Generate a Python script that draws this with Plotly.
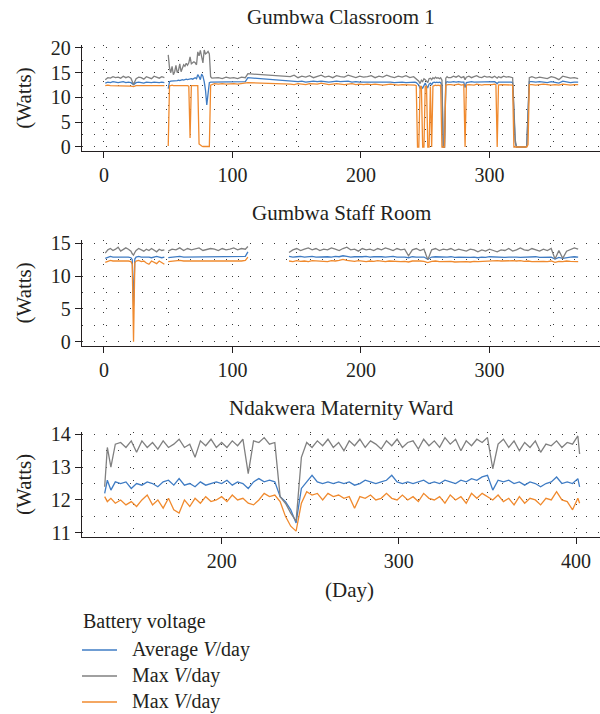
import plotly.graph_objects as go

# ---------------- data ----------------
# Panel 1: Gumbwa Classroom 1
p1_day = (list(range(1, 48, 2)) + [48.5] + list(range(50, 85))
          + [86, 89, 92, 95, 98, 101, 104, 107, 110, 112]
          + list(range(145, 242, 3)) + list(range(242, 269))
          + [270, 272, 274, 276, 278, 280, 281, 282, 284, 286, 288, 290, 292, 294,
             296, 298, 300, 302, 304, 305, 306, 307, 309, 311, 313, 315]
          + list(range(317, 332)) + list(range(333, 370, 3)))
p1_max = ([13.6, 14.0, 13.9, 14.2, 14.0, 14.1, 13.9, 14.3, 14.0, 14.2, 13.9, 12.6,
           13.8, 14.1, 14.0, 13.7, 14.2, 14.0, 13.8, 14.3, 14.1, 13.9, 14.2, 14.0]
          + [None]
          + [18.6, 16.0, 15.0, 16.3, 14.6, 15.2, 16.5, 15.0, 15.5, 16.8, 15.2, 16.0,
             16.6, 16.3, 16.9, 16.5, 17.0, 18.2, 16.8, 17.0, 17.2, 17.0, 16.6, 19.2,
             18.4, 19.5, 18.0, 17.0, 19.6, 18.8, 19.0, 19.3, 18.8, 14.2, 13.9]
          + [13.9, 14.0, 13.8, 14.1, 13.9, 14.0, 13.8, 14.1, 14.0, 14.8]
          + [14.2, 14.5, 14.0, 14.3, 14.1, 14.4, 14.0, 14.2, 14.5, 14.1, 14.3, 14.0,
             14.4, 14.2, 14.1, 14.5, 14.2, 14.0, 14.3, 14.1, 14.2, 14.4, 14.0, 14.3,
             14.1, 14.5, 14.2, 14.0, 14.3, 14.1, 14.4, 14.0, 14.2]
          + [14.0, 13.8, 13.6, 13.3, 12.8, 13.5, 13.2, 13.8, 13.6, 13.2, 13.0, 13.8,
             13.9, 13.6, 14.0, 13.8, 14.1, 13.9, 14.0, 13.8, 14.0, 13.5, 0.0, 0.0,
             13.9, 14.2, 14.0]
          + [14.0, 14.3, 14.1, 14.4, 14.0, 14.2, 13.6, 14.1, 14.3, 14.0, 14.2, 14.4,
             14.1, 14.0, 14.3, 14.1, 14.2, 14.0, 14.3, 14.1, 13.9, 14.2, 14.0, 14.3,
             14.1, 14.2]
          + [14.1, 14.0, 8.0, 1.5, 0, 0, 0, 0, 0, 0, 0, 0, 0.2, 7.5, 14.0]
          + [14.2, 13.9, 14.1, 14.0, 13.8, 14.2, 14.0, 13.6, 14.3, 14.1, 13.9, 14.0, 13.8])
p1_avg = ([12.9, 13.1, 13.0, 13.2, 13.1, 13.0, 13.1, 13.2, 13.0, 13.1, 13.0, 12.6,
           13.0, 13.1, 13.0, 12.9, 13.1, 13.0, 13.0, 13.1, 13.0, 13.0, 13.1, 13.0]
          + [None]
          + [11.8, 13.2, 13.3, 13.3, 13.4, 13.3, 13.4, 13.4, 13.5, 13.4, 13.5, 13.6,
             13.5, 13.6, 13.7, 13.6, 13.7, 13.8, 13.8, 13.7, 13.9, 14.0, 13.8, 14.6,
             14.2, 13.6, 14.7, 14.3, 13.2, 11.5, 8.5, 11.0, 13.0, 13.1, 13.1]
          + [13.2, 13.1, 13.2, 13.1, 13.2, 13.1, 13.2, 13.1, 13.2, 14.0]
          + [13.3, 13.2, 13.2, 13.3, 13.1, 13.2, 13.3, 13.2, 13.3, 13.2, 13.1, 13.2,
             13.3, 13.2, 13.2, 13.3, 13.1, 13.2, 13.1, 13.1, 13.2, 13.1, 13.2, 13.1,
             13.1, 13.2, 13.1, 13.0, 13.1, 13.1, 13.0, 13.1, 13.1]
          + [13.1, 13.0, 12.8, 12.5, 11.8, 12.2, 11.9, 12.6, 12.9, 12.3, 12.0, 12.7,
             12.9, 12.6, 13.0, 13.1, 13.0, 13.1, 13.0, 13.1, 13.0, 12.5, 0.0, 0.0,
             13.0, 13.2, 13.1]
          + [13.1, 13.2, 13.1, 13.2, 13.1, 13.1, 12.0, 13.0, 13.1, 13.2, 13.1, 13.1,
             13.2, 13.1, 13.1, 13.2, 13.1, 13.1, 13.2, 13.0, 12.8, 13.1, 13.1, 13.2,
             13.1, 13.1]
          + [13.1, 13.0, 7.0, 1.0, 0, 0, 0, 0, 0, 0, 0, 0, 0.2, 7.0, 13.2]
          + [13.2, 13.1, 13.2, 13.1, 13.0, 13.2, 13.1, 12.9, 13.3, 13.1, 13.0, 13.1, 13.1])
p1_min = ([12.4, 12.5, 12.4, 12.4, 12.4, 12.3, 12.4, 12.4, 12.4, 12.4, 12.3, 12.2,
           12.4, 12.4, 12.4, 12.4, 12.3, 12.4, 12.4, 12.4, 12.4, 12.4, 12.3, 12.4]
          + [None]
          + [0.2, 12.4, 12.4, 12.5, 12.4, 12.4, 12.4, 12.5, 12.4, 12.4, 12.4, 12.5,
             12.4, 12.4, 12.4, 12.4, 12.3, 1.8, 12.4, 12.4, 12.5, 12.4, 12.4, 12.4,
             0.6, 0.3, 0.2, 0.1, 0.1, 0.1, 0.1, 0.1, 0.1, 12.5, 12.6]
          + [12.8, 12.7, 12.8, 12.7, 12.8, 12.8, 12.7, 12.8, 12.8, 13.0]
          + [12.7, 12.6, 12.8, 12.7, 12.6, 12.8, 12.7, 12.7, 12.9, 12.7, 12.6, 12.7,
             12.8, 12.7, 12.6, 12.7, 12.8, 12.6, 12.7, 12.6, 12.7, 12.6, 12.7, 12.6,
             12.5, 12.6, 12.7, 12.6, 12.5, 12.6, 12.6, 12.5, 12.6]
          + [12.5, 12.4, 0, 0, 12.3, 12.2, 0, 0, 12.2, 12.3, 0, 0, 12.2, 0, 12.3,
             12.4, 12.5, 12.4, 12.5, 12.4, 12.5, 0, 0, 0, 12.5, 12.6, 12.6]
          + [12.6, 12.5, 12.6, 12.7, 12.5, 12.6, 0, 12.5, 12.6, 12.6, 12.5, 12.7,
             12.6, 12.5, 12.6, 12.6, 12.5, 12.6, 12.7, 12.6, 0, 12.5, 12.6, 12.6,
             12.5, 12.6]
          + [12.6, 12.5, 0, 0, 0, 0, 0, 0, 0, 0, 0, 0, 0, 0.5, 12.6]
          + [12.6, 12.5, 12.6, 12.7, 12.6, 12.5, 12.6, 12.5, 12.7, 12.6, 12.5, 12.6, 12.6])

# Panel 2: Gumbwa Staff Room
p2_day = (list(range(1, 22, 2)) + [22, 23, 24] + list(range(25, 48, 2)) + [48.5]
          + list(range(50, 111, 3)) + [112] + [128] + list(range(144, 370, 3)))
p2_max = ([13.5, 14.0, 14.2, 13.9, 14.1, 14.4, 13.8, 14.0, 14.3, 14.1, 13.8, 13.4,
           13.2, 13.6, 13.9, 14.2, 14.0, 13.8, 14.1, 13.9, 14.2, 14.0, 13.7, 14.1,
           13.9, 14.0]
          + [None]
          + [13.8, 14.1, 14.0, 14.3, 13.9, 14.2, 14.0, 14.1, 14.3, 13.9, 14.0, 14.2,
             14.1, 13.9, 14.2, 14.0, 14.1, 14.3, 14.0, 14.2, 14.1, 14.5]
          + [None]
          + [13.6, 14.0, 14.2, 13.9, 14.1, 14.3, 14.0, 14.2, 13.9, 14.1,
             14.0, 14.3, 14.1, 13.9, 14.2, 14.4, 14.0, 14.1, 13.8, 14.2,
             14.0, 14.1, 13.9, 14.2, 14.0, 14.3, 14.1, 13.9, 14.2, 14.0,
             14.1, 13.1, 14.0, 14.2, 13.9, 14.1, 12.5, 14.0, 14.2, 13.9,
             14.1, 14.0, 14.2, 13.9, 14.1, 14.0, 13.8, 14.1, 14.0, 13.7,
             14.0, 13.8, 14.1, 13.9, 13.7, 14.0, 13.9, 14.2, 13.8, 14.0,
             14.3, 14.0, 13.9, 14.2, 14.0, 13.8, 14.1, 13.9, 14.2, 12.6,
             13.9, 12.7, 13.8, 14.0, 14.3, 14.1])
p2_avg = ([12.7, 12.9, 13.0, 12.9, 12.9, 13.0, 12.9, 12.9, 13.0, 12.9, 12.8, 12.5,
           5.5, 12.6, 12.9, 13.0, 12.9, 12.9, 13.0, 12.9, 12.8, 12.9, 13.0, 12.9,
           12.8, 12.9]
          + [None]
          + [12.8, 12.9, 12.9, 13.0, 12.9, 12.9, 12.9, 13.0, 12.9, 12.9, 12.9, 13.0,
             12.9, 12.9, 12.9, 13.0, 12.9, 12.9, 12.9, 12.9, 13.0, 13.7]
          + [None]
          + [13.0, 12.9, 12.95, 13.0, 12.9, 12.95, 13.0, 12.9, 12.95, 13.0,
             12.95, 12.9, 13.0, 12.95, 13.1, 13.0, 12.9, 12.95, 12.9, 12.95,
             13.0, 12.9, 12.95, 13.0, 12.95, 12.9, 12.95, 13.0, 12.9, 12.95,
             12.9, 12.8, 12.95, 12.9, 12.85, 12.9, 12.55, 12.9, 12.95, 12.9,
             12.85, 12.9, 12.95, 12.85, 12.9, 12.85, 12.9, 12.85, 12.9, 12.8,
             12.9, 12.85, 12.95, 12.9, 12.85, 12.9, 12.85, 12.9, 12.95, 12.9,
             12.85, 12.9, 12.85, 12.9, 12.95, 12.85, 12.9, 12.85, 12.9, 12.6,
             12.85, 12.7, 12.85, 12.9, 12.95, 12.9])
p2_min = ([12.1, 12.3, 12.4, 12.3, 12.3, 12.4, 12.3, 12.3, 12.4, 12.3, 12.2, 11.8,
           0.0, 12.0, 12.3, 12.4, 12.2, 12.3, 12.0, 11.8, 12.3, 12.1, 11.9, 12.3,
           12.1, 11.8]
          + [None]
          + [12.2, 12.3, 12.3, 12.4, 12.3, 12.3, 12.3, 12.2, 12.3, 12.3, 12.2, 12.3,
             12.3, 12.3, 12.2, 12.3, 12.3, 12.2, 12.3, 12.3, 12.4, 12.9]
          + [None]
          + [12.3, 12.2, 12.35, 12.25, 12.3, 12.2, 12.35, 12.3, 12.25, 12.3,
             12.2, 12.35, 12.3, 12.4, 12.55, 12.4, 12.3, 12.25, 12.35, 12.3,
             12.2, 12.3, 12.25, 12.35, 12.3, 12.2, 12.3, 12.25, 12.3, 12.2,
             12.25, 12.15, 12.3, 12.35, 12.3, 12.25, 12.05, 12.25, 12.3, 12.2,
             12.25, 12.2, 12.25, 12.15, 12.2, 12.25, 12.2, 12.15, 12.25, 12.2,
             12.25, 12.3, 12.35, 12.4, 12.35, 12.3, 12.35, 12.4, 12.35, 12.3,
             12.35, 12.25, 12.3, 12.2, 12.25, 12.3, 12.25, 12.2, 12.3, 12.1,
             12.25, 12.2, 12.3, 12.25, 12.2, 12.2])

# Panel 3: Ndakwera Maternity Ward
p3_day = [134, 135.5, 137.5] + list(range(140, 402, 3)) + [402]
p3_max = ([12.4, 13.6, 13.0]
          + [13.7, 13.75, 13.6, 13.8, 13.45, 13.8, 13.6, 13.75, 13.55, 13.8,
             13.6, 13.7, 13.85, 13.6, 13.7, 13.3, 13.8, 13.65, 13.85, 13.6,
             13.75, 13.6, 13.8, 13.65, 13.85, 12.8, 13.8, 13.75, 13.9, 13.7,
             13.75, 12.1, 11.9, 11.6, 11.35, 13.3, 13.75, 13.6, 13.8, 13.65,
             13.85, 13.6, 13.75, 13.5, 13.8, 13.65, 13.85, 13.6, 13.8, 13.7,
             13.55, 13.8, 13.65, 13.85, 13.6, 13.75, 13.8, 13.55, 13.85, 13.65,
             13.8, 13.6, 13.9, 13.7, 13.85, 13.5, 13.8, 13.65, 13.85, 13.75,
             13.9, 12.95, 13.7, 13.85, 13.6, 13.8, 13.5, 13.75, 13.6, 13.8,
             13.45, 13.7, 13.65, 13.8, 13.6, 13.75, 13.7, 13.95]
          + [13.4])
p3_avg = ([12.2, 12.6, 12.3]
          + [12.55, 12.5, 12.55, 12.35, 12.5, 12.45, 12.55, 12.5, 12.4, 12.55,
             12.6, 12.45, 12.65, 12.45, 12.5, 12.4, 12.55, 12.45, 12.5, 12.55,
             12.5, 12.6, 12.45, 12.55, 12.5, 12.35, 12.55, 12.65, 12.55, 12.6,
             12.55, 12.1, 11.95, 11.7, 11.3, 12.35, 12.55, 12.75, 12.55, 12.5,
             12.55, 12.5, 12.55, 12.5, 12.55, 12.45, 12.5, 12.6, 12.55, 12.5,
             12.55, 12.6, 12.75, 12.55, 12.5, 12.55, 12.5, 12.55, 12.6, 12.5,
             12.55, 12.5, 12.6, 12.55, 12.5, 12.6, 12.55, 12.65, 12.6, 12.7,
             12.75, 12.3, 12.6, 12.55, 12.6, 12.5, 12.55, 12.45, 12.55, 12.5,
             12.4, 12.5, 12.55, 12.7, 12.5, 12.55, 12.5, 12.65]
          + [12.4])
p3_min = ([12.1, 11.95, 12.05]
          + [11.9, 12.0, 11.85, 11.95, 11.8, 12.0, 12.15, 11.85, 12.0, 11.75,
             12.05, 11.7, 11.6, 12.0, 11.8, 12.05, 11.9, 12.1, 11.95, 12.0,
             12.1, 11.95, 12.15, 12.0, 12.05, 11.9, 11.85, 12.0, 12.2, 12.1,
             12.15, 11.95, 11.5, 11.2, 11.05, 11.9, 12.25, 12.15, 12.2, 12.0,
             12.2, 12.1, 12.15, 12.05, 12.1, 11.75, 12.1, 12.05, 12.15, 12.0,
             12.05, 12.2, 12.05, 12.0, 12.15, 12.0, 12.1, 11.95, 12.2, 12.05,
             12.0, 12.1, 11.9, 12.15, 12.0, 12.1, 11.9, 12.2, 12.05, 12.2,
             12.1, 12.0, 12.15, 11.95, 12.05, 11.85, 12.1, 11.9, 12.05, 12.0,
             11.85, 12.05, 12.0, 12.25, 12.0, 11.95, 11.7, 12.05]
          + [11.9])

panel_titles = ["Gumbwa Classroom 1", "Gumbwa Staff Room", "Ndakwera Maternity Ward"]
series_names = ["Average <i>V</i>/day", "Max <i>V</i>/day", "Max <i>V</i>/day"]
legend_title = "Battery voltage"

# ---------------- style ----------------
FONT = "Liberation Serif, DejaVu Serif, serif"
TXT = "#231f20"
COLORS = ["#3f7cc4", "#808080", "#f08a2e"]
GRID = dict(gridcolor="#3a3a3a", gridwidth=1, griddash="1px,11px")

fig = go.Figure()
panels = [(p1_day, p1_avg, p1_max, p1_min),
          (p2_day, p2_avg, p2_max, p2_min),
          (p3_day, p3_avg, p3_max, p3_min)]
for i, (d, a, mx, mn) in enumerate(panels):
    sfx = "" if i == 0 else str(i + 1)
    for j, ys in enumerate([a, mx, mn]):
        fig.add_trace(go.Scatter(
            x=d, y=ys, mode="lines", name=series_names[j],
            line=dict(color=COLORS[j], width=1.3),
            showlegend=False, xaxis="x" + sfx, yaxis="y" + sfx))

# pixel helpers (plot area: x 82..600, y 45..537)
W_PLOT, H_PLOT = 518.0, 492.0
def py(ypx):
    return (537 - ypx) / H_PLOT
def px(xpx):
    return (xpx - 82) / W_PLOT
def dom(top_px, bot_px):
    return [py(bot_px), py(top_px)]

def xax(anchor, rng):
    return dict(anchor=anchor, domain=[0, 1], range=rng, tick0=0, dtick=100,
                showline=True, linecolor=TXT, linewidth=1.3, ticks="outside",
                ticklen=6, tickcolor=TXT, tickwidth=1.2, zeroline=False,
                showgrid=True, **GRID,
                minor=dict(dtick=50, tick0=0, showgrid=True, ticks="", **GRID),
                tickfont=dict(family=FONT, size=20, color=TXT), automargin=False)

def yax(anchor, dmn, rng, dt):
    return dict(anchor=anchor, domain=dmn, range=rng, tick0=0, dtick=dt,
                showline=True, linecolor=TXT, linewidth=1.3, ticks="outside",
                ticklen=6, tickcolor=TXT, tickwidth=1.2, zeroline=False,
                showgrid=True, **GRID,
                minor=dict(dtick=dt / 2, tick0=0, showgrid=True, ticks="", **GRID),
                tickfont=dict(family=FONT, size=20, color=TXT), automargin=False,
                title=dict(text="(Watts)", font=dict(family=FONT, size=21, color=TXT),
                           standoff=13))

d1 = dom(45, 151)
d2 = dom(240, 345.7)
d3 = dom(432, 536.7)

annotations = []
for txt, ypx in zip(panel_titles, [17, 213, 408]):
    annotations.append(dict(text=txt, xref="paper", yref="paper", x=0.5, y=py(ypx),
                            xanchor="center", yanchor="middle", showarrow=False,
                            font=dict(family=FONT, size=21, color=TXT)))
# x-axis title
annotations.append(dict(text="(Day)", xref="paper", yref="paper", x=px(349), y=py(590),
                        xanchor="center", yanchor="middle", showarrow=False,
                        font=dict(family=FONT, size=21, color=TXT)))
# legend (title + entries)
annotations.append(dict(text=legend_title, xref="paper", yref="paper", x=px(81), y=py(621),
                        xanchor="left", yanchor="middle", showarrow=False,
                        font=dict(family=FONT, size=20, color=TXT)))
shapes = []
for j, ypx in enumerate([650, 676, 702]):
    annotations.append(dict(text=series_names[j], xref="paper", yref="paper",
                            x=px(130), y=py(ypx - 1), xanchor="left", yanchor="middle",
                            showarrow=False, font=dict(family=FONT, size=20, color=TXT)))
    shapes.append(dict(type="line", xref="paper", yref="paper",
                       x0=px(82), x1=px(117), y0=py(ypx), y1=py(ypx),
                       line=dict(color=COLORS[j], width=1.5)))

fig.update_layout(
    width=600, height=714,
    margin=dict(l=82, r=0, t=45, b=177, pad=0),
    paper_bgcolor="white", plot_bgcolor="white",
    font=dict(family=FONT, size=19, color=TXT),
    xaxis=xax("y", [-17.1, 386]),
    xaxis2=xax("y2", [-17.1, 386]),
    xaxis3=xax("y3", [121.2, 413.5]),
    yaxis=yax("x", d1, [-0.81, 20.6], 5),
    yaxis2=yax("x2", d2, [-0.61, 15.5], 5),
    yaxis3=yax("x3", d3, [10.88, 14.07], 1),
    annotations=annotations,
    shapes=shapes,
    showlegend=False,
)

fig.write_html("out.html")
